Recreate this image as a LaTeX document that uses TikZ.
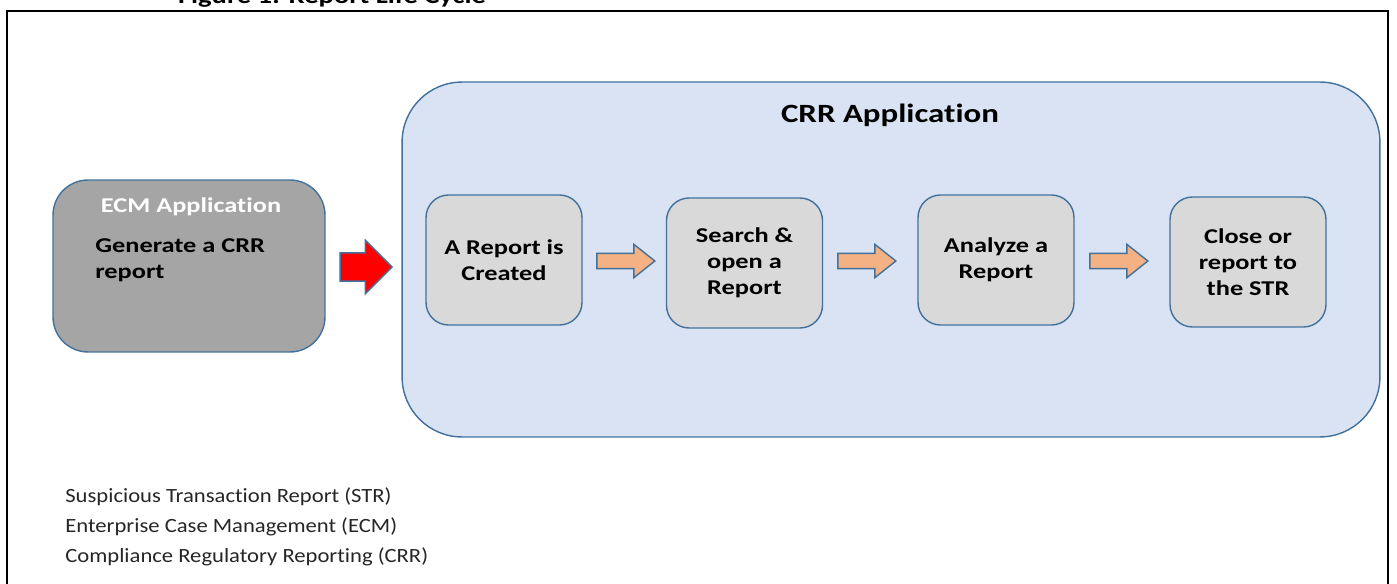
\documentclass[tikz,border=0pt]{standalone}
\usepackage{fontspec}
\setmainfont[Ligatures=NoCommon]{Carlito}
\newfontfamily\boxfont[FakeStretch=1.25,Ligatures=NoCommon]{Carlito}
\newfontfamily\notefont[FakeStretch=1.12,Ligatures=NoCommon]{Carlito}
\usetikzlibrary{shapes.arrows}
\definecolor{shapeline}{HTML}{41719C}
\definecolor{ecmgray}{HTML}{A5A5A5}
\definecolor{crrblue}{HTML}{DAE3F3}
\definecolor{stepgray}{HTML}{D9D9D9}
\definecolor{arroworange}{HTML}{F4B183}
\definecolor{notegray}{HTML}{262626}
\begin{document}
\begin{tikzpicture}[x=0.02cm,y=-0.02cm,
    boxtext/.style={font=\boxfont\bfseries\fontsize{12}{14.8}\selectfont},
    stepbox/.style={draw=shapeline,line width=0.8pt,fill=stepgray,rounded corners=0.45cm,
        minimum width=3.12cm,minimum height=2.6cm,align=center,boxtext},
    flowarrow/.style={single arrow,draw=shapeline,line width=0.8pt,fill=arroworange,inner xsep=0pt,inner ysep=0.14cm,
        minimum height=1.16cm,single arrow head extend=0.18cm,single arrow tip angle=77}]
    \useasboundingbox (0,0) rectangle (1397,584);
    % frame and (cut) caption
    \draw[line width=0.9pt] (7,600) -- (7,11) -- (1388,11) -- (1388,600);
    \node[anchor=base,font=\boxfont\bfseries\fontsize{13}{15}\selectfont] (caption) at (332,4) {Figure 1: Report Life Cycle};

    % ECM side
    \node[draw=shapeline,line width=0.8pt,fill=ecmgray,rounded corners=0.7cm,
        minimum width=5.44cm,minimum height=3.44cm] (ecm) at (189,266) {};
    \node[boxtext,text=white] (ecmtitle) at (191,207) {ECM Application};
    \node[boxtext,anchor=west,align=left,inner sep=0pt] (ecmtask) at (95,260) {Generate a CRR\\report};
    \node[single arrow,draw=shapeline,line width=0.8pt,fill=red,inner xsep=0pt,inner ysep=0.27cm,
        minimum height=1.04cm,single arrow head extend=0.25cm] (handover) at (359,267) {};

    % CRR side
    \node[draw=shapeline,line width=0.8pt,fill=crrblue,rounded corners=1.2cm,
        minimum width=19.56cm,minimum height=7.1cm] (crr) at (891,259.5) {};
    \node[font=\boxfont\bfseries\fontsize{15}{18}\selectfont] (crrtitle) at (890,115) {CRR Application};
    \node[stepbox] (created) at (504,260) {A Report is\\Created};
    \node[stepbox] (search) at (744.5,263) {Search \&\\open a\\Report};
    \node[stepbox] (analyze) at (996,260) {Analyze a\\Report};
    \node[stepbox] (close) at (1248,262) {Close or\\report to\\the STR};
    \node[flowarrow] (toSearch) at (621,261) {};
    \node[flowarrow] (toAnalyze) at (862,261) {};
    \node[flowarrow] (toClose) at (1114,261) {};

    % abbreviations
    \node[anchor=west,align=left,inner sep=0pt,text=notegray,font=\notefont\fontsize{11.5}{17}\selectfont] (legend) at (65,527)
        {Suspicious Transaction Report (STR)\\Enterprise Case Management (ECM)\\Compliance Regulatory Reporting (CRR)};
\end{tikzpicture}
\end{document}
